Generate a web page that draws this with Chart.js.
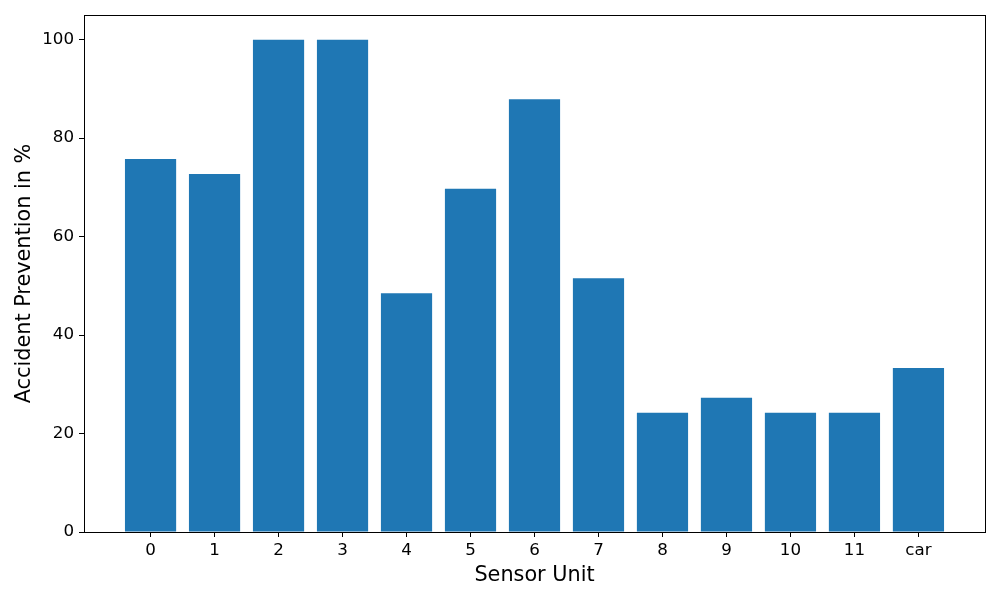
<!DOCTYPE html>
<html>
<head>
<meta charset="utf-8">
<script src="https://cdn.jsdelivr.net/npm/chart.js@4"></script>
<style>
  body { margin: 0; background: #fff; }
  #wrap { width: 1000px; height: 600px; }
</style>
</head>
<body>
<div id="wrap"><canvas id="chart-sensor" width="1000" height="600"></canvas></div>
<script>
// sensor units on the x axis
var sensorLabels = ['0', '1', '2', '3', '4', '5', '6', '7', '8', '9', '10', '11', 'car'];
// accident prevention values in %
var preventionValues = [75.76, 72.73, 100, 100, 48.48, 69.70, 87.88, 51.52, 24.24, 27.27, 24.24, 24.24, 33.33];
var yTicks = [0, 20, 40, 60, 80, 100];

var barColor = '#1f77b4';
var fontFamily = 'DejaVu Sans';

// draw the black frame round the plot area
var frame = {
  id: 'frame',
  afterDraw: function(chart) {
    var a = chart.chartArea;
    var ctx = chart.ctx;
    ctx.save();
    ctx.strokeStyle = '#000';
    ctx.lineWidth = 1;
    ctx.strokeRect(Math.round(a.left) + 0.5, Math.round(a.top) + 0.5,
                   Math.round(a.right - a.left), Math.round(a.bottom - a.top));
    ctx.restore();
  }
};

var points = preventionValues.map(function(v, i) { return { x: i, y: v }; });

var ctx = document.getElementById('chart-sensor').getContext('2d');
var chart = new Chart(ctx, {
  type: 'bar',
  data: {
    datasets: [{
      data: points,
      backgroundColor: barColor,
      borderColor: barColor,
      borderWidth: 0,
      inflateAmount: 0,
      categoryPercentage: 1.0,
      barPercentage: 0.8
    }]
  },
  options: {
    responsive: false,
    animation: false,
    layout: { padding: { left: 0, top: 15, right: 15, bottom: 0 } },
    plugins: { legend: { display: false }, tooltip: { enabled: false } },
    scales: {
      x: {
        type: 'linear',
        min: -1.04,
        max: 13.04,
        offset: false,
        afterBuildTicks: function(scale) {
          scale.ticks = sensorLabels.map(function(l, i) { return { value: i }; });
        },
        afterFit: function(scale) { scale.height = 68; },
        ticks: {
          autoSkip: false,
          maxRotation: 0,
          padding: 4,
          color: '#000',
          font: { family: fontFamily, size: 16.7 },
          callback: function(v) { return sensorLabels[v]; }
        },
        grid: { offset: false, drawOnChartArea: false, drawTicks: true, tickLength: 5, color: '#000' },
        border: { color: '#000' },
        title: {
          display: true,
          text: 'Sensor Unit',
          color: '#000',
          font: { family: fontFamily, size: 20.8 },
          padding: { top: 12, bottom: 12 }
        }
      },
      y: {
        min: 0,
        max: 105,
        afterBuildTicks: function(scale) {
          scale.ticks = yTicks.map(function(v) { return { value: v }; });
        },
        afterFit: function(scale) { scale.width = 84; },
        ticks: {
          padding: 5,
          color: '#000',
          font: { family: fontFamily, size: 16.7 }
        },
        grid: { drawOnChartArea: false, drawTicks: true, tickLength: 5, color: '#000' },
        border: { color: '#000' },
        title: {
          display: true,
          text: 'Accident Prevention in %',
          color: '#000',
          font: { family: fontFamily, size: 20.8 },
          padding: { top: 12, bottom: 12 }
        }
      }
    }
  },
  plugins: [frame]
});
</script>
</body>
</html>
